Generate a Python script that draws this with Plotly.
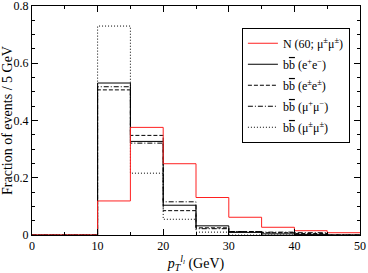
import plotly.graph_objects as go

edges = [0, 10, 15, 20, 25, 30, 35, 40, 45, 50]
n_signal = [0.0, 0.119, 0.376, 0.249, 0.131, 0.062, 0.027, 0.015, 0.008]
bb_ee_os = [0.0, 0.531, 0.327, 0.104, 0.032, 0.009, 0.004, 0.002, 0.0]
bb_ee_ss = [0.0, 0.507, 0.348, 0.085, 0.025, 0.012, 0.008, 0.005, 0.0]
bb_mm_os = [0.0, 0.518, 0.321, 0.116, 0.022, 0.012, 0.010, 0.008, 0.0]
bb_mm_ss = [0.0, 0.730, 0.216, 0.055, 0.010, 0.0, 0.0, 0.0, 0.0]

BB = "b<span style='text-decoration:overline'>b</span>"
labels = [
    "N (60; μ<sup>±</sup>μ<sup>±</sup>)",
    BB + " (e<sup>+</sup>e<sup>−</sup>)",
    BB + " (e<sup>±</sup>e<sup>±</sup>)",
    BB + " (μ<sup>+</sup>μ<sup>−</sup>)",
    BB + " (μ<sup>±</sup>μ<sup>±</sup>)",
]

fig = go.Figure()

def add(vals, name, color, dash, rank):
    fig.add_trace(go.Scatter(
        x=edges, y=vals + [vals[-1]], mode="lines", line_shape="hv",
        line=dict(color=color, width=1, dash=dash), name=name,
        legendrank=rank, legendgroup="g%d" % rank,
    ))

add(bb_mm_ss, labels[4], "black", "1px,2px", 5)
add(bb_mm_os, labels[3], "black", "5px,2px,1px,2px", 4)
add(bb_ee_ss, labels[2], "black", "4px,2px", 3)
add(bb_ee_os, labels[1], "black", "solid", 2)
add(n_signal, labels[0], "#ff2020", "solid", 1)

font = "Liberation Serif"
axis_common = dict(
    showline=True, linecolor="black", linewidth=1, mirror="allticks",
    ticks="inside", ticklen=6, tickcolor="black", tickwidth=1,
    showgrid=False, zeroline=False, automargin=False,
    ticklabeloverflow="allow",
    tickfont=dict(family=font, size=12, color="black"),
)
fig.update_layout(
    width=368, height=273,
    margin=dict(l=32, r=8, t=6, b=38),
    paper_bgcolor="white", plot_bgcolor="white",
    font=dict(family=font, color="black"),
    xaxis=dict(range=[0, 50], dtick=10, tick0=0,
               minor=dict(dtick=5, ticks="inside", ticklen=3, tickcolor="black"),
               title=dict(text="<i>p</i><sub><i>T</i></sub><sup><i>l</i><sub><i>l</i></sub></sup> (GeV)",
                          font=dict(family=font, size=14), standoff=2),
               **axis_common),
    yaxis=dict(range=[0, 0.8001], dtick=0.2, tick0=0,
               minor=dict(dtick=0.05, ticks="inside", ticklen=3, tickcolor="black"),
               title=dict(text="Fraction of events / 5 GeV",
                          font=dict(family=font, size=14), standoff=2),
               **axis_common),
    legend=dict(x=0.64, y=0.905, xanchor="left", yanchor="top",
                bgcolor="white", bordercolor="black", borderwidth=1,
                font=dict(family=font, size=12), itemwidth=30,
                traceorder="grouped", tracegroupgap=2),
    showlegend=True,
)
fig.write_html("out.html", config={"displayModeBar": False},
               post_script="document.body.style.margin='0';document.body.style.overflow='hidden';")
